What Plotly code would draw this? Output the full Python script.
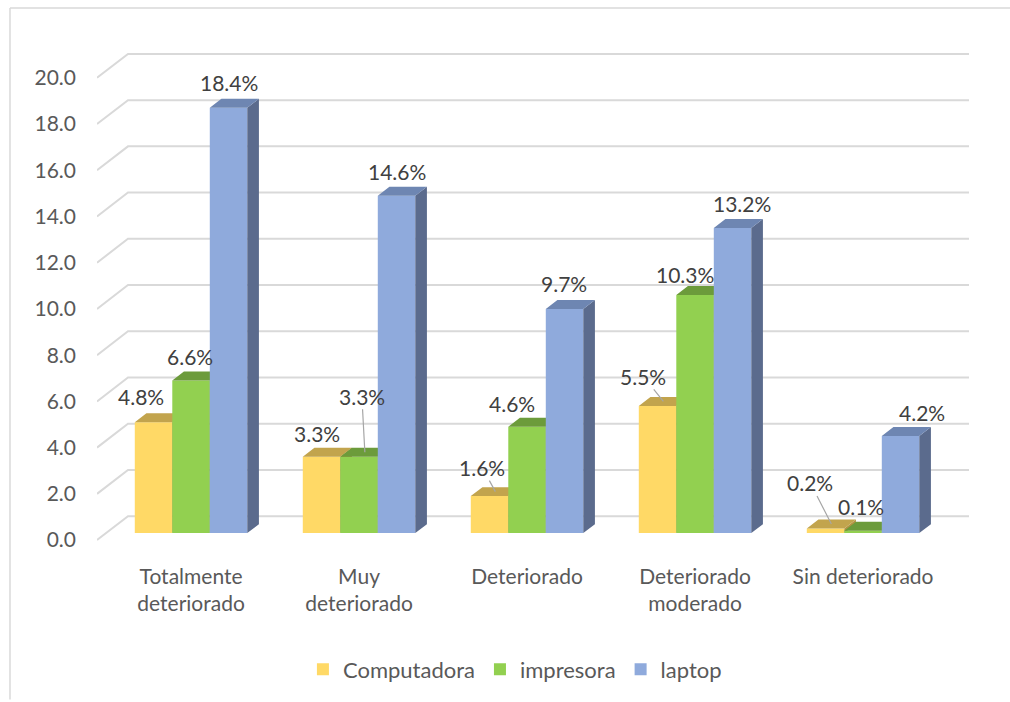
import plotly.graph_objects as go

# ---- data ----
categories = ["Totalmente<br>deteriorado", "Muy<br>deteriorado", "Deteriorado",
              "Deteriorado<br>moderado", "Sin deteriorado"]
series_names = ["Computadora", "impresora", "laptop"]
computadora = [4.8, 3.3, 1.6, 5.5, 0.2]
impresora = [6.6, 3.3, 4.6, 10.3, 0.1]
laptop = [18.4, 14.6, 9.7, 13.2, 4.2]
y_ticks = [0, 2, 4, 6, 8, 10, 12, 14, 16, 18, 20]

series_values = [computadora, impresora, laptop]
front_colors = ["#FFD966", "#92D050", "#8FAADC"]
top_colors = ["#C2A44D", "#6C9B3B", "#6E86B2"]
side_colors = ["#B39443", "#5F8A33", "#5B6B8D"]

FONT = "Lato, Calibri, sans-serif"

# ---- pseudo-3D projection (depth 0 = front of floor, 1 = back wall) ----
DX = 31 / 168          # x shift for full depth, in category units
DY = 24 / 23.2         # y shift for full depth, in value units
D_FRONT = 7 / 24       # depth of bar front faces
D_BACK = 16 / 24       # depth of bar back faces
BAR_W = 37.5 / 168     # bar width in category units
X_RANGE = [-0.50595, 4.7202]
Y_RANGE = [-0.7759, 22.069]
GRID_END = 4.6845

a1, b1 = D_FRONT * DX, D_FRONT * DY
a2, b2 = D_BACK * DX, D_BACK * DY

fig = go.Figure()

# back wall + left wall gridlines
gx, gy = [], []
for t in y_ticks:
    gx += [X_RANGE[0], X_RANGE[0] + DX, GRID_END, None]
    gy += [t, t + DY, t + DY, None]
fig.add_trace(go.Scatter(x=gx, y=gy, mode="lines",
                         line=dict(color="#D9D9D9", width=2),
                         hoverinfo="skip", showlegend=False))


def bar_left(g, k):
    return g + (k - 1.5) * BAR_W


# faces drawn series by series so later bars hide earlier sides/tops
for k, (name, vals) in enumerate(zip(series_names, series_values)):
    fx, fy, tx, ty, sx, sy = [], [], [], [], [], []
    for g, v in enumerate(vals):
        xl = bar_left(g, k)
        xr = xl + BAR_W
        fx += [xl + a1, xr + a1, xr + a1, xl + a1, xl + a1, None]
        fy += [b1, b1, v + b1, v + b1, b1, None]
        tx += [xl + a1, xr + a1, xr + a2, xl + a2, xl + a1, None]
        ty += [v + b1, v + b1, v + b2, v + b2, v + b1, None]
        sx += [xr + a1, xr + a2, xr + a2, xr + a1, xr + a1, None]
        sy += [b1, b2, v + b2, v + b1, b1, None]
    for xs, ys, col in ((fx, fy, front_colors[k]), (sx, sy, side_colors[k]),
                        (tx, ty, top_colors[k])):
        fig.add_trace(go.Scatter(x=xs, y=ys, mode="lines", fill="toself",
                                 fillcolor=col, line=dict(width=0, color=col),
                                 hoverinfo="skip", showlegend=False))
    # legend entry
    fig.add_trace(go.Bar(x=[None], y=[None], name=name,
                         marker=dict(color=front_colors[k], line=dict(width=0))))

# data label offsets (px) relative to the top-front centre of each bar;
# the last flag marks labels joined to their bar by a leader line
label_pos = {
    (0, 0): (-13, -26, False), (1, 0): (-1, -24, False), (2, 0): (0, -25, False),
    (0, 1): (-5, -23, False), (1, 1): (2, -60, True), (2, 1): (0, -24, False),
    (0, 2): (-8, -28, True), (1, 2): (-15, -23, False), (2, 2): (-1, -25, False),
    (0, 3): (-15, -29, True), (1, 3): (-10, -21, False), (2, 3): (9, -25, False),
    (0, 4): (-16, -45, True), (1, 4): (-2, -24, False), (2, 4): (21, -24, False),
}

annotations = []
for k, vals in enumerate(series_values):
    for g, v in enumerate(vals):
        cx = bar_left(g, k) + BAR_W / 2 + a1
        cy = v + b1
        dx, dy, leader = label_pos[(k, g)]
        text = f"{v:.1f}%"
        font = dict(family=FONT, size=21, color="#404040")
        if leader:
            annotations.append(dict(
                x=cx + (a2 - a1) / 2, y=v + (b1 + b2) / 2, xref="x", yref="y",
                text=text, showarrow=True, arrowhead=0, arrowwidth=1.2,
                arrowcolor="#A6A6A6", ax=dx - 5, ay=dy + 4, font=font,
                borderpad=0))
        else:
            annotations.append(dict(
                x=cx, y=cy, xref="x", yref="y", text=text, showarrow=False,
                xshift=dx, yshift=-dy, font=font))

fig.update_layout(
    width=1010, height=702,
    margin=dict(l=97, r=35, t=30, b=142),
    paper_bgcolor="white", plot_bgcolor="white",
    font=dict(family=FONT, size=21, color="#595959"),
    xaxis=dict(range=X_RANGE, showgrid=False, zeroline=False, showline=False,
               tickmode="array",
               tickvals=[g + a1 for g in range(len(categories))],
               ticktext=categories, ticks="", ticklabelstandoff=4,
               tickfont=dict(family=FONT, size=21, color="#595959"),
               fixedrange=True),
    yaxis=dict(range=Y_RANGE, showgrid=False, zeroline=False, showline=False,
               tickmode="array", tickvals=y_ticks, tickformat=".1f",
               ticks="", ticklabelstandoff=20,
               tickfont=dict(family=FONT, size=21, color="#595959"),
               fixedrange=True),
    legend=dict(orientation="h", x=0.476, y=-0.211, xanchor="center",
                yanchor="middle", font=dict(family=FONT, size=22, color="#595959"),
                itemclick=False, itemdoubleclick=False),
    annotations=annotations,
    shapes=[
        dict(type="line", xref="paper", yref="paper", x0=-0.0991, x1=-0.0991,
             y0=-0.268, y1=1.0415, line=dict(color="#D9D9D9", width=1.5)),
        dict(type="line", xref="paper", yref="paper", x0=-0.0991, x1=1.04,
             y0=1.0415, y1=1.0415, line=dict(color="#D9D9D9", width=1.5)),
    ],
)

fig.write_html("out.html")
